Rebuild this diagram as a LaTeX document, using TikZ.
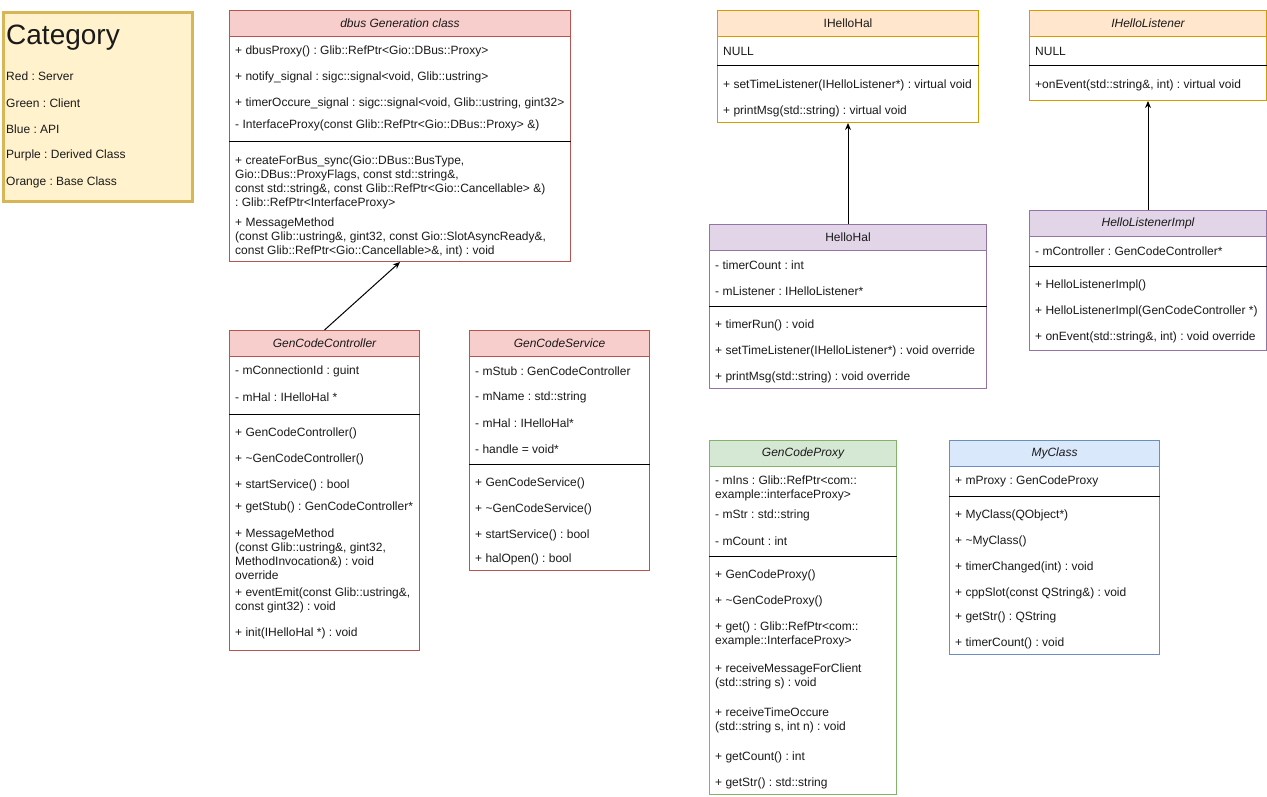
\documentclass[tikz,border=0pt]{standalone}
\usepackage{fontspec}
\setmainfont{Liberation Sans}
\usetikzlibrary{arrows.meta}

\definecolor{redfill}{HTML}{F8CECC}
\definecolor{redline}{HTML}{B85450}
\definecolor{orangefill}{HTML}{FFE6CC}
\definecolor{orangeline}{HTML}{D79B00}
\definecolor{purplefill}{HTML}{E1D5E7}
\definecolor{purpleline}{HTML}{9673A6}
\definecolor{greenfill}{HTML}{D5E8D4}
\definecolor{greenline}{HTML}{82B366}
\definecolor{bluefill}{HTML}{DAE8FC}
\definecolor{blueline}{HTML}{6C8EBF}
\definecolor{notefill}{HTML}{FFF2CC}
\definecolor{noteline}{HTML}{D6B656}
\definecolor{txtcol}{HTML}{1A1A1A}

\begin{document}
\frenchspacing
\begin{tikzpicture}[x=1pt, y=-1pt]
\tikzset{classbox/.style={draw, line width=1pt, anchor=north west, inner sep=0pt, fill=white},
  classhead/.style={draw, line width=1pt, anchor=north west, inner sep=0pt, minimum height=26pt, text=txtcol, font=\fontsize{12}{14}\selectfont},
  member/.style={anchor=west, inner sep=0pt, yshift=-1.5pt, align=left, text=txtcol, font=\fontsize{12}{14}\selectfont},
  sepline/.style={line width=1pt},
  inherit/.style={-{Stealth[length=7pt, width=6pt]}, line width=1pt}}
\useasboundingbox (0,0) rectangle (1267,797);

% legend
\node[classbox, fill=notefill, draw=noteline, line width=3pt, minimum width=189pt, minimum height=188pt] (legend) at (1.5,11.5) {};
\node[member, font=\fontsize{28}{30}\selectfont] (legendT) at (6,36) {Category};
\node[member] (legend1) at (6,75) {Red : Server};
\node[member] (legend2) at (6,102) {Green : Client};
\node[member] (legend3) at (6,128) {Blue : API};
\node[member] (legend4) at (6,154) {Purple : Derived Class};
\node[member] (legend5) at (6,181) {Orange : Base Class};

% dbus Generation class
\node[classbox, draw=redline, minimum width=341pt, minimum height=251pt] (dbus) at (229,10) {};
\node[classhead, fill=redfill, draw=redline, minimum width=341pt] (dbusH) at (229,10) {\itshape dbus Generation class};
\node[member] (dbusA1) at (235,50) {+ dbusProxy() : Glib::RefPtr<Gio::DBus::Proxy>};
\node[member] (dbusA2) at (235,76) {+ notify\_signal : sigc::signal<void, Glib::ustring>};
\node[member] (dbusA3) at (235,102) {+ timerOccure\_signal : sigc::signal<void, Glib::ustring, gint32>};
\node[member] (dbusA4) at (235,124) {- InterfaceProxy(const Glib::RefPtr<Gio::DBus::Proxy> \&)};
\draw[sepline] (dbus.west |- 0,142) -- (dbus.east |- 0,142);
\node[member] (dbusM1) at (235,181) {+ createForBus\_sync(Gio::DBus::BusType,\\Gio::DBus::ProxyFlags, const std::string\&,\\const std::string\&, const Glib::RefPtr<Gio::Cancellable> \&)\\: Glib::RefPtr<InterfaceProxy>};
\node[member] (dbusM2) at (235,236) {+ MessageMethod\\(const Glib::ustring\&, gint32, const Gio::SlotAsyncReady\&,\\const Glib::RefPtr<Gio::Cancellable>\&, int) : void};

% GenCodeController
\node[classbox, draw=redline, minimum width=190pt, minimum height=320pt] (ctrl) at (229,330) {};
\node[classhead, fill=redfill, draw=redline, minimum width=190pt] (ctrlH) at (229,330) {\itshape GenCodeController};
\node[member] (ctrlA1) at (235,370) {- mConnectionId : guint};
\node[member] (ctrlA2) at (235,396) {- mHal : IHelloHal *};
\draw[sepline] (ctrl.west |- 0,414) -- (ctrl.east |- 0,414);
\node[member] (ctrlM1) at (235,432) {+ GenCodeController()};
\node[member] (ctrlM2) at (235,458) {+ \textasciitilde GenCodeController()};
\node[member] (ctrlM3) at (235,484) {+ startService() : bool};
\node[member] (ctrlM4) at (235,506) {+ getStub() : GenCodeController*};
\node[member] (ctrlM5) at (235,553) {+ MessageMethod\\(const Glib::ustring\&, gint32,\\MethodInvocation\&) : void\\override};
\node[member] (ctrlM6) at (235,599) {+ eventEmit(const Glib::ustring\&,\\const gint32) : void};
\node[member] (ctrlM7) at (235,632) {+ init(IHelloHal *) : void};

% GenCodeService
\node[classbox, draw=redline, minimum width=180pt, minimum height=240pt] (svc) at (469,330) {};
\node[classhead, fill=redfill, draw=redline, minimum width=180pt] (svcH) at (469,330) {\itshape GenCodeService};
\node[member] (svcA1) at (475,370) {- mStub : GenCodeController};
\node[member] (svcA2) at (475,396) {- mName : std::string};
\node[member] (svcA3) at (475,422) {- mHal : IHelloHal*};
\node[member] (svcA4) at (475,448) {- handle = void*};
\draw[sepline] (svc.west |- 0,464) -- (svc.east |- 0,464);
\node[member] (svcM1) at (475,482) {+ GenCodeService()};
\node[member] (svcM2) at (475,508) {+ \textasciitilde GenCodeService()};
\node[member] (svcM3) at (475,534) {+ startService() : bool};
\node[member] (svcM4) at (475,558) {+ halOpen() : bool};

% IHelloHal
\node[classbox, draw=orangeline, minimum width=261pt, minimum height=112pt] (ihal) at (717,10) {};
\node[classhead, fill=orangefill, draw=orangeline, minimum width=261pt] (ihalH) at (717,10) {IHelloHal};
\node[member] (ihalA1) at (723,50) {NULL};
\draw[sepline] (ihal.west |- 0,66) -- (ihal.east |- 0,66);
\node[member] (ihalM1) at (723,84) {+ setTimeListener(IHelloListener*) : virtual void};
\node[member] (ihalM2) at (723,110) {+ printMsg(std::string) : virtual void};

% IHelloListener
\node[classbox, draw=orangeline, minimum width=237pt, minimum height=90pt] (ilis) at (1029,10) {};
\node[classhead, fill=orangefill, draw=orangeline, minimum width=237pt] (ilisH) at (1029,10) {\itshape IHelloListener};
\node[member] (ilisA1) at (1035,50) {NULL};
\draw[sepline] (ilis.west |- 0,66) -- (ilis.east |- 0,66);
\node[member] (ilisM1) at (1035,84) {+onEvent(std::string\&, int) : virtual void};

% HelloHal
\node[classbox, draw=purpleline, minimum width=277pt, minimum height=164pt] (hal) at (709,224) {};
\node[classhead, fill=purplefill, draw=purpleline, minimum width=277pt] (halH) at (709,224) {HelloHal};
\node[member] (halA1) at (715,264) {- timerCount : int};
\node[member] (halA2) at (715,290) {- mListener : IHelloListener*};
\draw[sepline] (hal.west |- 0,306) -- (hal.east |- 0,306);
\node[member] (halM1) at (715,324) {+ timerRun() : void};
\node[member] (halM2) at (715,350) {+ setTimeListener(IHelloListener*) : void override};
\node[member] (halM3) at (715,376) {+ printMsg(std::string) : void override};

% HelloListenerImpl
\node[classbox, draw=purpleline, minimum width=237pt, minimum height=140pt] (lisImpl) at (1029,210) {};
\node[classhead, fill=purplefill, draw=purpleline, minimum width=237pt] (lisImplH) at (1029,210) {\itshape HelloListenerImpl};
\node[member] (lisImplA1) at (1035,250) {- mController : GenCodeController*};
\draw[sepline] (lisImpl.west |- 0,266) -- (lisImpl.east |- 0,266);
\node[member] (lisImplM1) at (1035,284) {+ HelloListenerImpl()};
\node[member] (lisImplM2) at (1035,310) {+ HelloListenerImpl(GenCodeController *)};
\node[member] (lisImplM3) at (1035,336) {+ onEvent(std::string\&, int) : void override};

% GenCodeProxy
\node[classbox, draw=greenline, minimum width=187pt, minimum height=354pt] (proxy) at (709,440) {};
\node[classhead, fill=greenfill, draw=greenline, minimum width=187pt] (proxyH) at (709,440) {\itshape GenCodeProxy};
\node[member] (proxyA1) at (715,487) {- mIns : Glib::RefPtr<com::\\example::interfaceProxy>};
\node[member] (proxyA2) at (715,514) {- mStr : std::string};
\node[member] (proxyA3) at (715,540) {- mCount : int};
\draw[sepline] (proxy.west |- 0,556) -- (proxy.east |- 0,556);
\node[member] (proxyM1) at (715,574) {+ GenCodeProxy()};
\node[member] (proxyM2) at (715,600) {+ \textasciitilde GenCodeProxy()};
\node[member] (proxyM3) at (715,633) {+ get() : Glib::RefPtr<com::\\example::InterfaceProxy>};
\node[member] (proxyM4) at (715,675) {+ receiveMessageForClient\\(std::string s) : void};
\node[member] (proxyM5) at (715,719) {+ receiveTimeOccure\\(std::string s, int n) : void};
\node[member] (proxyM6) at (715,756) {+ getCount() : int};
\node[member] (proxyM7) at (715,782) {+ getStr() : std::string};

% MyClass
\node[classbox, draw=blueline, minimum width=210pt, minimum height=214pt] (myc) at (949,440) {};
\node[classhead, fill=bluefill, draw=blueline, minimum width=210pt] (mycH) at (949,440) {\itshape MyClass};
\node[member] (mycA1) at (955,480) {+ mProxy : GenCodeProxy};
\draw[sepline] (myc.west |- 0,496) -- (myc.east |- 0,496);
\node[member] (mycM1) at (955,514) {+ MyClass(QObject*)};
\node[member] (mycM2) at (955,540) {+ \textasciitilde MyClass()};
\node[member] (mycM3) at (955,566) {+ timerChanged(int) : void};
\node[member] (mycM4) at (955,592) {+ cppSlot(const QString\&) : void};
\node[member] (mycM5) at (955,616) {+ getStr() : QString};
\node[member] (mycM6) at (955,642) {+ timerCount() : void};

% inheritance / use
\draw[inherit] (ctrl.north) -- (dbus.south);
\draw[inherit] (hal.north) -- (ihal.south);
\draw[inherit] (lisImpl.north) -- (ilis.south);
\end{tikzpicture}
\end{document}
